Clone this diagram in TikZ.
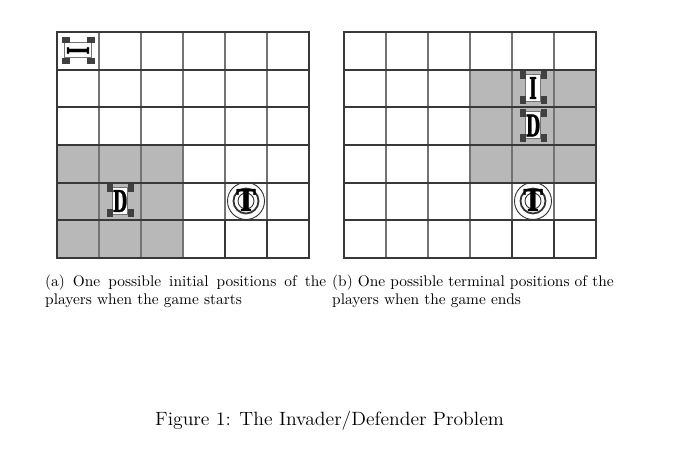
\documentclass[tikz,border=0pt]{standalone}
\usepackage{fontspec}
\usepackage{graphicx}
\newfontfamily\heavyfont[BoldFeatures={FakeBold=1.5}]{DejaVu Serif}
\tikzset{
  cellfill/.style={fill=black!28,draw=none},
  gridline/.style={draw=black!78,line width=1.7pt},
  thingrid/.style={draw=black!55,line width=1.2pt},
  wheel/.style={fill=black!75,draw=none},
  chassis/.style={fill=white,draw=black!55,line width=1pt},
  ringline/.style={draw=black!80,line width=0.9pt},
  ringthick/.style={draw=black!80,line width=1.8pt},
  caplabel/.style={anchor=base west,inner sep=0pt},
  figlabel/.style={anchor=base west,inner sep=0pt}
}
\newcommand{\capsize}[1]{\scalebox{1.54}{\fontsize{10}{12}\selectfont #1}}
\newcommand{\figsize}[1]{\scalebox{1.64}[1.6]{\fontsize{12}{14}\selectfont #1}}
\newcommand{\gameboard}[1]{%
  \begin{scope}[xshift=#1pt]
    \foreach \i in {1,...,5} \draw[thingrid] ({\i*42},0) -- ({\i*42},226);
    \foreach \i in {4,5} \draw[gridline] ({\i*42},188.3) -- ({\i*42},226);
    \foreach \j in {1,...,5} \draw[gridline] (0,{\j*37.67}) -- (252,{\j*37.67});
    \draw[gridline] (0,0) rectangle (252,226);
  \end{scope}}
\newcommand{\rover}[4]{% center x, y, letter, angle
  \begin{scope}[shift={(#1,#2)},rotate=#4]
    \draw[chassis] (-7.5,-13.5) rectangle (7.5,13.5);
    \foreach \a in {-1,1} \foreach \b in {-1,1}
      \fill[wheel] ({\a*10.5-3},{\b*12.5-4}) rectangle ++(6,8);
    \node[inner sep=0pt,rotate=#4] at (0,0) {\scalebox{0.72}[1.3]{\fontsize{23}{23}\heavyfont\bfseries #3}};
  \end{scope}}
\newcommand{\goalmark}[2]{%
  \begin{scope}[shift={(#1,#2)}]
    \draw[ringline] (0,0) circle (18.5);
    \draw[ringthick] (0,0) circle (12.5);
    \draw[ringline] (0,0) circle (8);
    \node[inner sep=0pt] at (0,-1) {\scalebox{1.12}[1.3]{\fontsize{23}{23}\heavyfont\bfseries T}};
  \end{scope}}
\begin{document}
\begin{tikzpicture}[x=1pt,y=-1pt]
\useasboundingbox (0,0) rectangle (677,454);
\fill[white] (0,0) rectangle (677,454);
% shaded zones
\fill[cellfill] (57,145) rectangle (183,258);
\fill[cellfill] (470,70) rectangle (596,182);
\begin{scope}[yshift=-32pt]
\gameboard{57}
\gameboard{344}
\end{scope}
\rover{78}{50.5}{I}{90}
\rover{120}{201}{D}{0}
\goalmark{246}{201}
\rover{533}{88}{I}{0}
\rover{533}{125.5}{D}{0}
\goalmark{533}{201}
\node[caplabel] (capa1) at (45,287) {\capsize{\makebox[182.5pt][s]{(a) One possible initial positions of the}}};
\node[caplabel] (capa2) at (45,305) {\capsize{players when the game starts}};
\node[caplabel] (capb1) at (332,287) {\capsize{(b) One possible terminal positions of the}};
\node[caplabel] (capb2) at (332,305) {\capsize{players when the game ends}};
\node[figlabel] (fig) at (155,425) {\figsize{Figure 1: The Invader/Defender Problem}};
\end{tikzpicture}
\end{document}
